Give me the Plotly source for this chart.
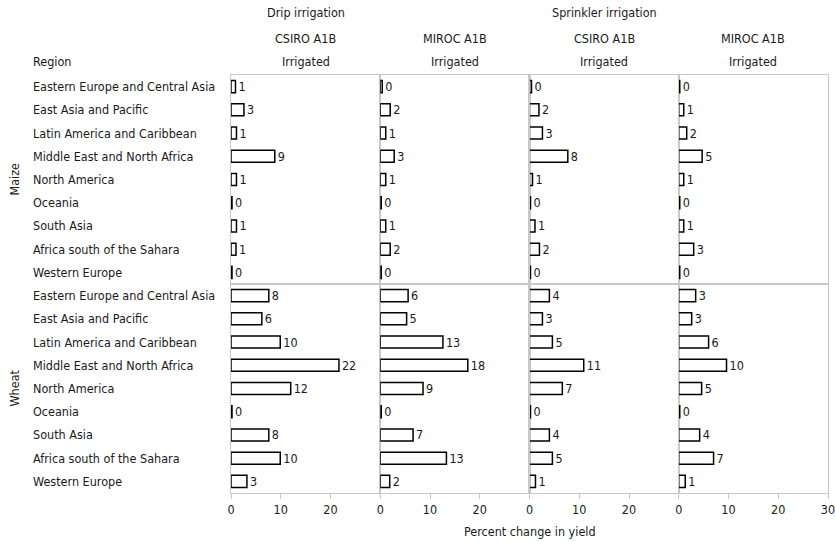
import plotly.graph_objects as go

regions = [
    "Eastern Europe and Central Asia",
    "East Asia and Pacific",
    "Latin America and Caribbean",
    "Middle East and North Africa",
    "North America",
    "Oceania",
    "South Asia",
    "Africa south of the Sahara",
    "Western Europe",
]
crops = ["Maize", "Wheat"]
irrigation_types = ["Drip irrigation", "Sprinkler irrigation"]
models = ["CSIRO A1B", "MIROC A1B"]
x_ticks = [0, 10, 20, 30]

# Percent change in yield (bar lengths)
maize_drip_csiro = [0.9, 2.6, 1.1, 8.8, 1.1, 0.2, 1.1, 1.0, 0.2]
maize_drip_miroc = [0.4, 2.0, 1.1, 2.8, 1.1, 0.2, 1.1, 2.0, 0.2]
maize_sprk_csiro = [0.4, 1.9, 2.6, 7.7, 0.6, 0.2, 1.1, 2.0, 0.2]
maize_sprk_miroc = [0.2, 1.0, 1.6, 4.7, 1.0, 0.2, 1.0, 3.0, 0.2]
wheat_drip_csiro = [7.6, 6.2, 9.9, 21.7, 12.0, 0.2, 7.6, 9.9, 3.2]
wheat_drip_miroc = [5.6, 5.3, 12.6, 17.6, 8.6, 0.2, 6.6, 13.3, 1.9]
wheat_sprk_csiro = [4.0, 2.6, 4.6, 10.9, 6.6, 0.2, 4.0, 4.6, 1.2]
wheat_sprk_miroc = [3.4, 2.6, 6.0, 9.6, 4.6, 0.2, 4.2, 7.0, 1.3]

panels = [
    [maize_drip_csiro, maize_drip_miroc, maize_sprk_csiro, maize_sprk_miroc],
    [wheat_drip_csiro, wheat_drip_miroc, wheat_sprk_csiro, wheat_sprk_miroc],
]

FONT = "DejaVu Sans Condensed, sans-serif"
FS = 12.5
GRID = "#c8c8c8"
TXT = "#1a1a1a"

W, H = 835, 542
L, R, T, B = 231, 828, 74.5, 493
PW, PH = R - L, B - T


def px_x(px):
    return (px - L) / PW


def px_y(py):
    return (B - py) / PH


fig = go.Figure()
layout = {}
for r in range(2):
    for c in range(4):
        k = r * 4 + c + 1
        xs = "" if k == 1 else str(k)
        vals = panels[r][c]
        fig.add_trace(go.Bar(
            x=vals, y=regions, orientation="h",
            xaxis="x" + xs, yaxis="y" + xs,
            marker=dict(color="white", line=dict(color="black", width=1.5)),
            width=0.52,
            text=[str(int(round(v))) for v in vals],
            textposition="outside", constraintext="none", cliponaxis=False,
            textfont=dict(family=FONT, size=FS, color=TXT),
            showlegend=False, hoverinfo="skip",
        ))
        bottom = r == 1
        tv = x_ticks if c == 3 else x_ticks[:3]
        layout["xaxis" + xs] = dict(
            domain=[c / 4, (c + 1) / 4], anchor="y" + xs, range=[0, 30],
            showgrid=False, zeroline=False,
            showline=True, mirror=True, linecolor=GRID, linewidth=1.2,
            ticks="outside" if bottom else "", ticklen=5, tickcolor=GRID, tickwidth=1,
            tickvals=tv, showticklabels=bottom, ticklabeloverflow="allow",
            tickfont=dict(family=FONT, size=FS, color=TXT),
        )
        layout["yaxis" + xs] = dict(
            domain=[0.5, 1] if r == 0 else [0, 0.5], anchor="x" + xs,
            type="category", categoryarray=regions, range=[8.5, -0.5],
            showgrid=False, zeroline=False, showticklabels=False,
            showline=True, mirror=True, linecolor=GRID, linewidth=1.2, ticks="",
        )

annotations = []
for r in range(2):
    ys = "" if r == 0 else "5"
    for reg in regions:
        annotations.append(dict(
            x=px_x(31), xref="paper", y=reg, yref="y" + ys,
            text=reg, showarrow=False, xanchor="left", yanchor="middle",
            font=dict(family=FONT, size=FS, color=TXT),
        ))
    annotations.append(dict(
        x=px_x(14), xref="paper", y=0.75 if r == 0 else 0.25, yref="paper",
        text=crops[r], textangle=-90, showarrow=False,
        xanchor="center", yanchor="middle",
        font=dict(family=FONT, size=FS, color=TXT),
    ))

for g, name in enumerate(irrigation_types):
    annotations.append(dict(
        x=(2 * g + 0.5) / 4, xref="paper", y=px_y(12), yref="paper",
        text=name, showarrow=False, xanchor="center", yanchor="middle",
        font=dict(family=FONT, size=FS, color=TXT),
    ))
for c in range(4):
    annotations.append(dict(
        x=(c + 0.5) / 4, xref="paper", y=px_y(38), yref="paper",
        text=models[c % 2], showarrow=False, xanchor="center", yanchor="middle",
        font=dict(family=FONT, size=FS, color=TXT),
    ))
    annotations.append(dict(
        x=(c + 0.5) / 4, xref="paper", y=px_y(61), yref="paper",
        text="Irrigated", showarrow=False, xanchor="center", yanchor="middle",
        font=dict(family=FONT, size=FS, color=TXT),
    ))
annotations.append(dict(
    x=px_x(31), xref="paper", y=px_y(61), yref="paper",
    text="Region", showarrow=False, xanchor="left", yanchor="middle",
    font=dict(family=FONT, size=FS, color=TXT),
))
annotations.append(dict(
    x=0.5, xref="paper", y=px_y(532), yref="paper",
    text="Percent change in yield", showarrow=False, xanchor="center", yanchor="middle",
    font=dict(family=FONT, size=FS, color=TXT),
))

fig.update_layout(
    width=W, height=H,
    margin=dict(l=L, r=W - R, t=T, b=H - B, pad=0, autoexpand=False),
    paper_bgcolor="white", plot_bgcolor="white",
    font=dict(family=FONT, size=FS, color=TXT),
    annotations=annotations,
    bargap=0.5,
    **layout,
)
fig.write_html(
    "out.html",
    config={"displayModeBar": False, "staticPlot": True},
    post_script="document.body.style.margin='0';",
)
